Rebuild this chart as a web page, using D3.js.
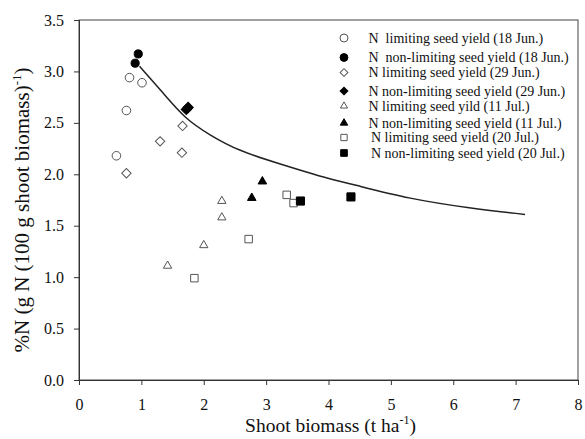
<!DOCTYPE html>
<html>
<head>
<meta charset="utf-8">
<script src="https://cdn.jsdelivr.net/npm/d3@7"></script>
<style>
  body { margin: 0; background: #fff; }
  text { font-family: "Liberation Serif", "Times New Roman", serif; fill: #111; }
</style>
</head>
<body>
<script>
const width = 585;
const height = 439;

// series: [shoot biomass, %N]
const limJun18 = [[0.60, 2.18], [0.76, 2.62], [0.81, 2.94], [1.01, 2.89]];
const nonJun18 = [[0.95, 3.17], [0.90, 3.08]];
const limJun29 = [[0.76, 2.01], [1.30, 2.32], [1.65, 2.21], [1.66, 2.47]];
const nonJun29 = [[1.72, 2.63], [1.75, 2.65]];
const limJul11 = [[1.42, 1.11], [2.00, 1.31], [2.29, 1.58], [2.29, 1.74]];
const nonJul11 = [[2.77, 1.77], [2.94, 1.93]];
const limJul20 = [[1.85, 0.99], [2.72, 1.37], [3.33, 1.80], [3.44, 1.72]];
const nonJul20 = [[3.55, 1.74], [4.36, 1.78]];

// critical N dilution curve
const curvePts = [[0.97, 3.05], [1.35, 2.79], [1.70, 2.54], [2.10, 2.38], [2.55, 2.23],
  [3.22, 2.10], [3.86, 1.98], [4.40, 1.90], [5.30, 1.76], [6.27, 1.67], [7.15, 1.61]];

const legendLabels = [
  "N  limiting seed yield (18 Jun.)",
  "N  non-limiting seed yield (18 Jun.)",
  "N limiting seed yield (29 Jun.)",
  "N non-limiting seed yield (29 Jun.)",
  "N limiting seed yild (11 Jul.)",
  "N non-limiting seed yield (11 Jul.)",
  "N limiting seed yield (20 Jul.)",
  "N non-limiting seed yield (20 Jul.)"
];

const xTicks = [0, 1, 2, 3, 4, 5, 6, 7, 8];
const yTicks = [0, 0.5, 1, 1.5, 2, 2.5, 3, 3.5];

// diamond = square turned 45 degrees
const series = [
  { data: limJun18, shape: d3.symbolCircle, size: 58, rot: 0, filled: false, lsize: 50 },
  { data: nonJun18, shape: d3.symbolCircle, size: 52, rot: 0, filled: true, lsize: 48 },
  { data: limJun29, shape: d3.symbolSquare, size: 44, rot: 45, filled: false, lsize: 30 },
  { data: nonJun29, shape: d3.symbolSquare, size: 52, rot: 45, filled: true, lsize: 30 },
  { data: limJul11, shape: d3.symbolTriangle, size: 30, rot: 0, filled: false, lsize: 22 },
  { data: nonJul11, shape: d3.symbolTriangle, size: 32, rot: 0, filled: true, lsize: 24 },
  { data: limJul20, shape: d3.symbolSquare, size: 56, rot: 0, filled: false, lsize: 40 },
  { data: nonJul20, shape: d3.symbolSquare, size: 66, rot: 0, filled: true, lsize: 44 }
];

const margin = { top: 20, right: 7, bottom: 59, left: 79 };

const svg = d3.select("body").append("svg")
  .attr("width", width)
  .attr("height", height);

const x = d3.scaleLinear().domain([0, 8]).range([margin.left, width - margin.right]);
const y = d3.scaleLinear().domain([0, 3.5]).range([height - margin.bottom, margin.top]);

// frame
svg.append("rect")
  .attr("x", margin.left)
  .attr("y", margin.top)
  .attr("width", x(8) - x(0))
  .attr("height", y(0) - y(3.5))
  .attr("fill", "none")
  .attr("stroke", "#444")
  .attr("stroke-width", 1);

const xAxis = svg.append("g")
  .attr("transform", `translate(0,${y(0)})`)
  .call(d3.axisBottom(x).tickValues(xTicks).tickFormat(d3.format("d")).tickSize(5).tickPadding(14));

const yAxis = svg.append("g")
  .attr("transform", `translate(${x(0)},0)`)
  .call(d3.axisLeft(y).tickValues(yTicks).tickFormat(d3.format(".1f")).tickSize(5).tickPadding(10));

[xAxis, yAxis].forEach(g => {
  g.selectAll("path, line").attr("stroke", "#333");
  g.selectAll("text")
    .attr("font-family", "Liberation Serif, serif")
    .attr("font-size", 16)
    .attr("fill", "#111");
});

// axis titles
const xTitle = svg.append("text")
  .attr("x", (x(0) + x(8)) / 2 + 2)
  .attr("y", 432)
  .attr("text-anchor", "middle")
  .attr("font-size", 19.5);
xTitle.append("tspan").text("Shoot biomass (t ha");
xTitle.append("tspan").attr("dy", -8).attr("font-size", 12).text("-1");
xTitle.append("tspan").attr("dy", 8).text(")");

const yTitle = svg.append("text")
  .attr("transform", `translate(29,${(y(0) + y(3.5)) / 2 + 10}) rotate(-90)`)
  .attr("text-anchor", "middle")
  .attr("font-size", 21);
yTitle.append("tspan").text("%N (g N (100 g shoot biomass)");
yTitle.append("tspan").attr("dy", -8).attr("font-size", 13).text("-1");
yTitle.append("tspan").attr("dy", 8).text(")");

// curve
const line = d3.line()
  .x(d => x(d[0]))
  .y(d => y(d[1]))
  .curve(d3.curveBasis);

svg.append("path")
  .datum(curvePts)
  .attr("d", line)
  .attr("fill", "none")
  .attr("stroke", "#222")
  .attr("stroke-width", 1.5);

// points
series.forEach(s => {
  svg.append("g")
    .selectAll("path")
    .data(s.data)
    .enter().append("path")
    .attr("d", d3.symbol().type(s.shape).size(s.size))
    .attr("transform", d => `translate(${x(d[0])},${y(d[1])}) rotate(${s.rot})`)
    .attr("fill", s.filled ? "#000" : "#fff")
    .attr("stroke", s.filled ? "#000" : "#555")
    .attr("stroke-width", 1);
});

// legend
const legendY = [38, 57.5, 72.5, 91, 106, 123, 137.5, 153];
const legend = svg.append("g");
series.forEach((s, i) => {
  legend.append("path")
    .attr("d", d3.symbol().type(s.shape).size(s.lsize))
    .attr("transform", `translate(344,${legendY[i]}) rotate(${s.rot})`)
    .attr("fill", s.filled ? "#000" : "#fff")
    .attr("stroke", s.filled ? "#000" : "#555")
    .attr("stroke-width", 1);
  legend.append("text")
    .attr("x", i < 6 ? 368.5 : 371)
    .attr("y", legendY[i] + 4.5)
    .attr("font-size", 14)
    .style("white-space", "pre")
    .text(legendLabels[i]);
});
</script>
</body>
</html>
